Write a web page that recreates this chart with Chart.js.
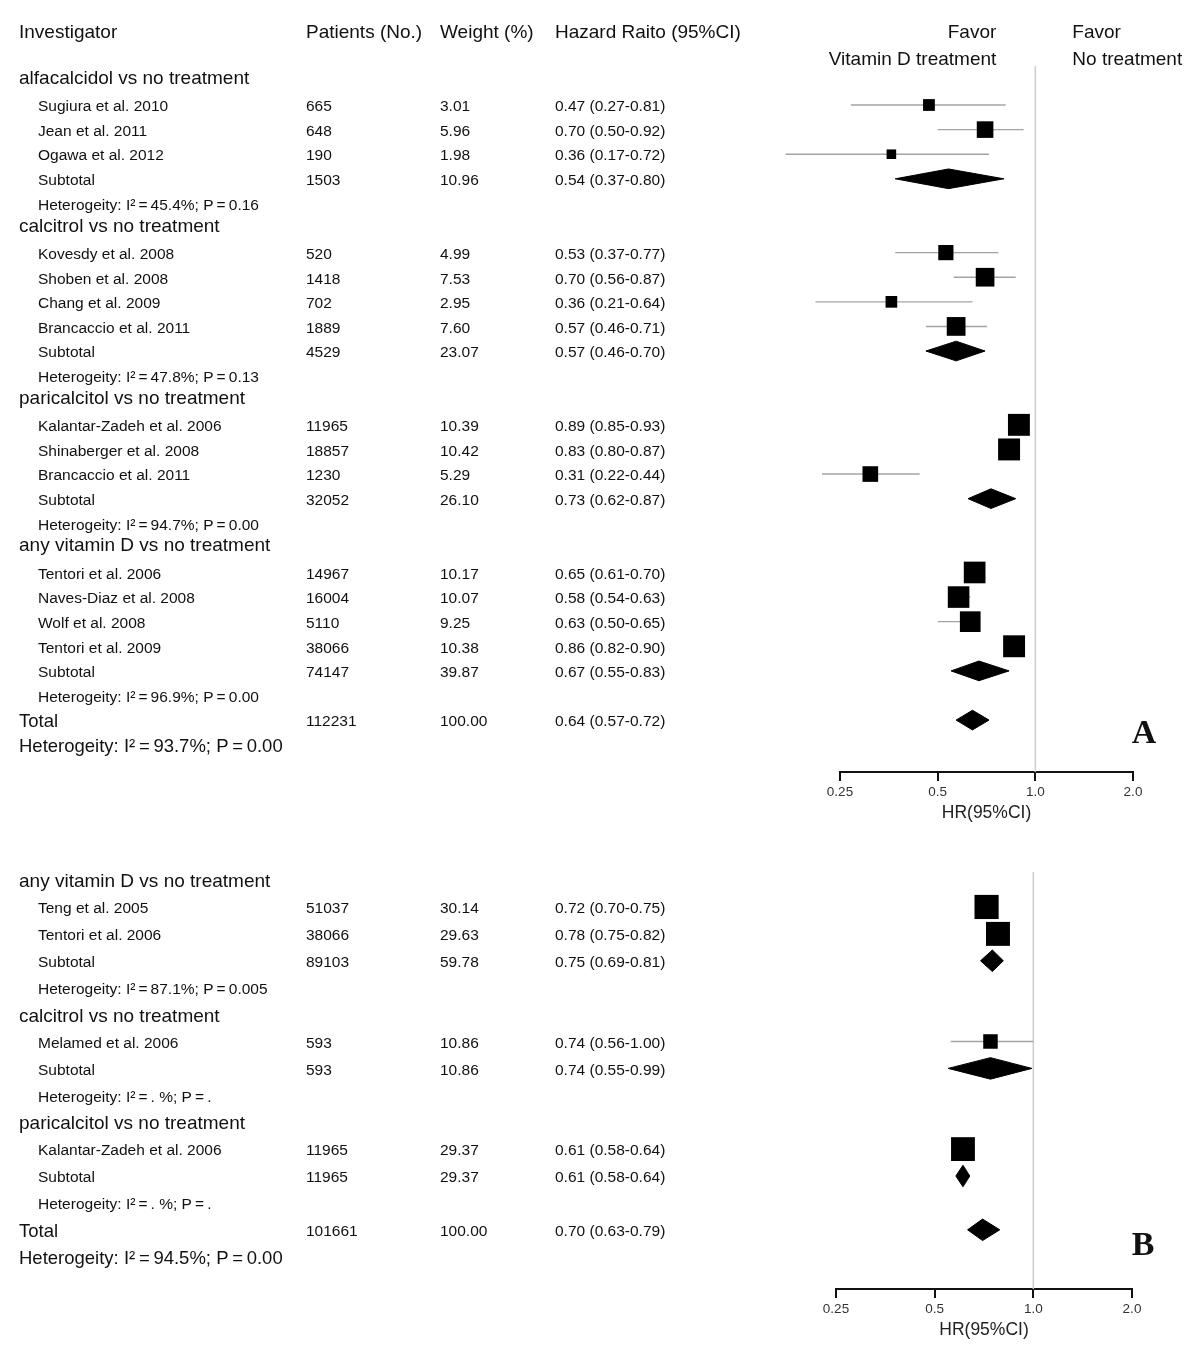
<!DOCTYPE html>
<html>
<head>
<meta charset="utf-8">
<title>Vitamin D forest plot</title>
<script src="https://cdn.jsdelivr.net/npm/chart.js@4.4.1/dist/chart.umd.min.js"></script>
<style>
  html, body { margin: 0; padding: 0; background: #fff; }
  canvas { display: block; }
</style>
</head>
<body>
<canvas id="chartA" width="1200" height="850"></canvas>
<canvas id="chartB" width="1200" height="518"></canvas>
<script>
// axis
const tickValues = [0.25, 0.5, 1, 2];
const tickLabels = ['0.25', '0.5', '1.0', '2.0'];

// panel A
const groupsA = ['alfacalcidol vs no treatment', 'calcitrol vs no treatment', 'paricalcitol vs no treatment', 'any vitamin D vs no treatment'];
const studiesA = [
  ['Sugiura et al. 2010', 'Jean et al. 2011', 'Ogawa et al. 2012'],
  ['Kovesdy et al. 2008', 'Shoben et al. 2008', 'Chang et al. 2009', 'Brancaccio et al. 2011'],
  ['Kalantar-Zadeh et al. 2006', 'Shinaberger et al. 2008', 'Brancaccio et al. 2011'],
  ['Tentori et al. 2006', 'Naves-Diaz et al. 2008', 'Wolf et al. 2008', 'Tentori et al. 2009']
];
const patientsA = [[665, 648, 190], [520, 1418, 702, 1889], [11965, 18857, 1230], [14967, 16004, 5110, 38066]];
const weightsA = [[3.01, 5.96, 1.98], [4.99, 7.53, 2.95, 7.60], [10.39, 10.42, 5.29], [10.17, 10.07, 9.25, 10.38]];
const hrA = [[0.47, 0.70, 0.36], [0.53, 0.70, 0.36, 0.57], [0.89, 0.83, 0.31], [0.65, 0.58, 0.63, 0.86]];
const lowA = [[0.27, 0.50, 0.17], [0.37, 0.56, 0.21, 0.46], [0.85, 0.80, 0.22], [0.61, 0.54, 0.50, 0.82]];
const highA = [[0.81, 0.92, 0.72], [0.77, 0.87, 0.64, 0.71], [0.93, 0.87, 0.44], [0.70, 0.63, 0.65, 0.90]];
const subPatientsA = [1503, 4529, 32052, 74147];
const subWeightsA = [10.96, 23.07, 26.10, 39.87];
const subHrA = [0.54, 0.57, 0.73, 0.67];
const subLowA = [0.37, 0.46, 0.62, 0.55];
const subHighA = [0.80, 0.70, 0.87, 0.83];
const hetA = ['I²\u2009=\u200945.4%; P\u2009=\u20090.16', 'I²\u2009=\u200947.8%; P\u2009=\u20090.13', 'I²\u2009=\u200994.7%; P\u2009=\u20090.00', 'I²\u2009=\u200996.9%; P\u2009=\u20090.00'];
const totalA = [112231, 100.00, 0.64, 0.57, 0.72];
const totalHetA = 'I²\u2009=\u200993.7%; P\u2009=\u20090.00';

// panel B
const groupsB = ['any vitamin D vs no treatment', 'calcitrol vs no treatment', 'paricalcitol vs no treatment'];
const studiesB = [['Teng et al. 2005', 'Tentori et al. 2006'], ['Melamed et al. 2006'], ['Kalantar-Zadeh et al. 2006']];
const patientsB = [[51037, 38066], [593], [11965]];
const weightsB = [[30.14, 29.63], [10.86], [29.37]];
const hrB = [[0.72, 0.78], [0.74], [0.61]];
const lowB = [[0.70, 0.75], [0.56], [0.58]];
const highB = [[0.75, 0.82], [1.00], [0.64]];
const subPatientsB = [89103, 593, 11965];
const subWeightsB = [59.78, 10.86, 29.37];
const subHrB = [0.75, 0.74, 0.61];
const subLowB = [0.69, 0.55, 0.58];
const subHighB = [0.81, 0.99, 0.64];
const hetB = ['I²\u2009=\u200987.1%; P\u2009=\u20090.005', 'I²\u2009=\u2009. %; P\u2009=\u2009.', 'I²\u2009=\u2009. %; P\u2009=\u2009.'];
const totalB = [101661, 100.00, 0.70, 0.63, 0.79];
const totalHetB = 'I²\u2009=\u200994.5%; P\u2009=\u20090.00';

const FONT = '"Liberation Sans", Arial, Helvetica, sans-serif';
const INK = '#111';
const TEXT_DY = 2; // canvas 'middle' sits a little high for these glyphs

function ci(h, l, u) {
  return h.toFixed(2) + ' (' + l.toFixed(2) + '-' + u.toFixed(2) + ')';
}

function diamond(h, l, u, r) {
  const d = 0.4;
  return [{ x: l, y: r }, { x: h, y: r - d }, { x: u, y: r }, { x: h, y: r + d }, { x: l, y: r }];
}

function buildPanel(p) {
  const text = [], squares = [], lines = [], diamonds = [];
  let r = -1;
  const cells = (row, label, lx, lsize, n, w, h, l, u) => {
    text.push({ r: row, x: lx, t: label, size: lsize });
    text.push({ r: row, x: 306, t: String(n), size: 15.5 });
    text.push({ r: row, x: 440, t: w.toFixed(2), size: 15.5 });
    text.push({ r: row, x: 555, t: ci(h, l, u), size: 15.5 });
  };
  p.groups.forEach((g, gi) => {
    text.push({ r: r + p.groupShift, x: 19, t: g, size: 19 });
    r++;
    p.studies[gi].forEach((name, si) => {
      const h = p.hr[gi][si], l = p.low[gi][si], u = p.high[gi][si], w = p.weights[gi][si];
      cells(r, name, 38, 15.5, p.patients[gi][si], w, h, l, u);
      squares.push({ x: h, y: r, w: w });
      lines.push([{ x: l, y: r }, { x: u, y: r }]);
      r++;
    });
    cells(r, 'Subtotal', 38, 15.5, p.subPatients[gi], p.subWeights[gi], p.subHr[gi], p.subLow[gi], p.subHigh[gi]);
    diamonds.push(diamond(p.subHr[gi], p.subLow[gi], p.subHigh[gi], r));
    r++;
    text.push({ r: r, x: 38, t: 'Heterogeity: ' + p.het[gi], size: 15.5 });
    r++;
  });
  const t = p.total;
  cells(r, 'Total', 19, 18.5, t[0], t[1], t[2], t[3], t[4]);
  diamonds.push(diamond(t[2], t[3], t[4], r));
  r++;
  text.push({ r: r, x: 19, t: 'Heterogeity: ' + p.totalHet, size: 18.5 });
  return { text, squares, lines, diamonds };
}

function textPlugin(panel, extra) {
  return {
    id: 'forestText',
    afterDraw(chart) {
      const ctx = chart.ctx, ys = chart.scales.y, xs = chart.scales.x;
      const yAt = v => ys.getPixelForValue(v) + TEXT_DY;
      ctx.save();
      ctx.fillStyle = INK;
      ctx.textBaseline = 'middle';
      panel.text.forEach(c => {
        ctx.font = c.size + 'px ' + FONT;
        ctx.textAlign = 'left';
        ctx.fillText(c.t, c.x, yAt(c.r));
      });
      extra(ctx, xs, yAt);
      ctx.restore();
    }
  };
}

function makeChart(id, panel, opt) {
  const datasets = [];
  datasets.push({
    data: [{ x: 1, y: opt.yMin }, { x: 1, y: opt.yMax }],
    showLine: true, borderColor: '#cdcdcd', borderWidth: 1.5, pointRadius: 0, order: 3
  });
  panel.lines.forEach(seg => datasets.push({
    data: seg, showLine: true, borderColor: '#a3a3a3', borderWidth: 1.4,
    pointRadius: 0, clip: false, order: 2
  }));
  panel.diamonds.forEach(d => datasets.push({
    data: d, showLine: true, fill: 'shape', backgroundColor: '#000', borderColor: '#000',
    borderWidth: 1, pointRadius: 0, tension: 0, clip: false, order: 1
  }));
  datasets.push({
    data: panel.squares, pointStyle: 'rect', backgroundColor: '#000', borderWidth: 0,
    pointRadius: c => opt.side * Math.sqrt(c.raw.w) / Math.SQRT2, clip: false, order: 0
  });

  return new Chart(document.getElementById(id), {
    type: 'scatter',
    data: { datasets },
    options: {
      responsive: false,
      animation: false,
      events: [],
      layout: { autoPadding: false, padding: opt.padding },
      plugins: { legend: { display: false }, tooltip: { enabled: false } },
      scales: {
        x: {
          type: 'logarithmic', min: 0.25, max: 2, position: 'bottom',
          afterBuildTicks: s => { s.ticks = tickValues.map(v => ({ value: v })); },
          afterFit: s => { s.height = 56; },
          ticks: {
            callback: (v, i) => tickLabels[i],
            autoSkip: false, maxRotation: 0, padding: 3,
            color: '#333', font: { family: FONT, size: 13.5 }
          },
          grid: { drawOnChartArea: false, drawTicks: true, tickLength: 9, color: '#111', lineWidth: 2 },
          border: { display: true, color: '#111', width: 2 },
          title: {
            display: true, text: 'HR(95%CI)', color: '#222',
            font: { family: FONT, size: 17.5 }, padding: { top: 4, bottom: 4 }
          }
        },
        y: { type: 'linear', reverse: true, min: opt.yMin, max: opt.yMax, display: false }
      }
    },
    plugins: [textPlugin(panel, opt.extra)]
  });
}

const panelA = buildPanel({
  groups: groupsA, studies: studiesA, patients: patientsA, weights: weightsA,
  hr: hrA, low: lowA, high: highA,
  subPatients: subPatientsA, subWeights: subWeightsA, subHr: subHrA, subLow: subLowA, subHigh: subHighA,
  het: hetA, total: totalA, totalHet: totalHetA, groupShift: -0.15
});

const panelB = buildPanel({
  groups: groupsB, studies: studiesB, patients: patientsB, weights: weightsB,
  hr: hrB, low: lowB, high: highB,
  subPatients: subPatientsB, subWeights: subWeightsB, subHr: subHrB, subLow: subLowB, subHigh: subHighB,
  het: hetB, total: totalB, totalHet: totalHetB, groupShift: 0
});

makeChart('chartA', panelA, {
  yMin: -1.585, yMax: 27.11, side: 6.8,
  padding: { left: 840, right: 67, top: 66, bottom: 22 },
  extra: (ctx, xs, yAt) => {
    const x1 = xs.getPixelForValue(1);
    ctx.font = '19px ' + FONT;
    ctx.textAlign = 'left';
    ctx.fillText('Investigator', 19, yAt(-3));
    ctx.fillText('Patients (No.)', 306, yAt(-3));
    ctx.fillText('Weight (%)', 440, yAt(-3));
    ctx.fillText('Hazard Raito (95%CI)', 555, yAt(-3));
    ctx.textAlign = 'right';
    ctx.fillText('Favor', x1 - 39, yAt(-3));
    ctx.fillText('Vitamin D treatment', x1 - 39, yAt(-1.91));
    ctx.textAlign = 'left';
    ctx.fillText('Favor', x1 + 37, yAt(-3));
    ctx.fillText('No treatment', x1 + 37, yAt(-1.91));
    ctx.font = 'bold 34px "Liberation Serif", "Times New Roman", serif';
    ctx.textAlign = 'center';
    ctx.fillText('A', 1144, yAt(25.5));
  }
});

makeChart('chartB', panelB, {
  yMin: -1.30, yMax: 14.2, side: 4.4,
  padding: { left: 836, right: 68, top: 22, bottom: 23 },
  extra: (ctx, xs, yAt) => {
    ctx.font = 'bold 34px "Liberation Serif", "Times New Roman", serif';
    ctx.textAlign = 'center';
    ctx.fillText('B', 1143, yAt(12.53));
  }
});
</script>
</body>
</html>
